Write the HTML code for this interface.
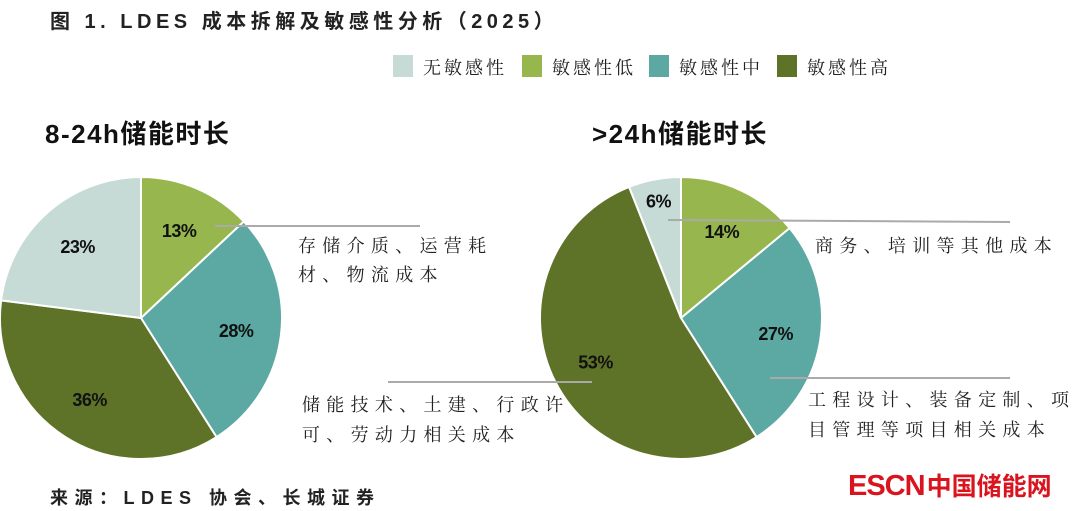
<!DOCTYPE html>
<html><head><meta charset="utf-8"><style>
body{margin:0;background:#fff;}
svg{display:block;}
.cj{font-family:"Liberation Serif","Noto Serif CJK SC",serif;}
.sn{font-family:"Liberation Sans","Noto Sans CJK SC",sans-serif;}
</style></head><body>
<svg width="1080" height="511" viewBox="0 0 1080 511" xmlns="http://www.w3.org/2000/svg">
<text x="50" y="28" class="sn" font-size="20" font-weight="bold" fill="#222" letter-spacing="4.5">图 1. LDES 成本拆解及敏感性分析（2025）</text>
<g id="legend"></g>
<text x="45" y="143" class="sn" font-size="26" font-weight="bold" fill="#111" letter-spacing="1.5">8-24h储能时长</text>
<text x="592" y="143" class="sn" font-size="26" font-weight="bold" fill="#111" letter-spacing="1.5">&gt;24h储能时长</text>
<g id="pies"></g>
<g stroke="#aaa" stroke-width="2">
<line x1="215" y1="226" x2="420" y2="226"/>
<line x1="388" y1="382" x2="592" y2="382"/>
<line x1="668" y1="220" x2="1010" y2="222"/>
<line x1="770" y1="378" x2="1010" y2="378"/>
</g>
<g class="cj" font-size="18" fill="#222" letter-spacing="6.3">
<text x="298" y="252">存储介质、运营耗</text>
<text x="298" y="281">材、物流成本</text>
<text x="302" y="411">储能技术、土建、行政许</text>
<text x="302" y="441">可、劳动力相关成本</text>
<text x="815" y="252">商务、培训等其他成本</text>
<text x="808" y="406">工程设计、装备定制、项</text>
<text x="808" y="436">目管理等项目相关成本</text>
</g>
<text x="50" y="504" class="sn" font-size="18" font-weight="bold" fill="#222" letter-spacing="6.5">来源：LDES 协会、长城证券</text>
<text x="848" y="495" class="sn" font-size="29" font-weight="bold" fill="#d9141e" letter-spacing="-1">ESCN<tspan font-size="25" dx="2" letter-spacing="0">中国储能网</tspan></text>
</svg>
<script>
const categories=['无敏感性','敏感性低','敏感性中','敏感性高'];
const colors=['#c6dbd5','#97b64e','#5ca8a2','#5e7327'];
const pie1Values=[23,13,28,36];
const pie2Values=[6,14,27,53];
const NS='http://www.w3.org/2000/svg';
const lg=document.getElementById('legend');
const lx=[393,522,649,777];
categories.forEach((c,i)=>{
 const r=document.createElementNS(NS,'rect');
 r.setAttribute('x',lx[i]);r.setAttribute('y',55);r.setAttribute('width',20);r.setAttribute('height',22);r.setAttribute('fill',colors[i]);
 
 
 lg.appendChild(r);
 const t=document.createElementNS(NS,'text');
 t.setAttribute('x',lx[i]+30);t.setAttribute('y',74);t.setAttribute('class','cj');t.setAttribute('font-size','18');t.setAttribute('fill','#222');t.setAttribute('letter-spacing','3');
 t.textContent=c;
 
 
 lg.appendChild(t);
});
const order=[1,2,3,0];
function drawPie(vals,cx,cy,R,name){
 const g=document.getElementById('pies');
 const tot=vals.reduce((a,b)=>a+b,0);
 let a=0;
 order.forEach(i=>{
  const v=vals[i];const a0=a/tot*2*Math.PI;a+=v;const a1=a/tot*2*Math.PI;
  const p=(t)=>[cx+R*Math.sin(t),cy-R*Math.cos(t)];
  const [x0,y0]=p(a0),[x1,y1]=p(a1);
  const path=document.createElementNS(NS,'path');
  path.setAttribute('d',`M${cx},${cy}L${x0},${y0}A${R},${R} 0 ${a1-a0>Math.PI?1:0} 1 ${x1},${y1}Z`);
  path.setAttribute('fill',colors[i]);path.setAttribute('stroke','#fff');path.setAttribute('stroke-width','2');
  
  
  g.appendChild(path);
  const m=(a0+a1)/2;const lr=v<10?R*0.85:R*0.68;
  const t=document.createElementNS(NS,'text');
  t.setAttribute('x',cx+lr*Math.sin(m));t.setAttribute('y',cy-lr*Math.cos(m)+7);
  t.setAttribute('text-anchor','middle');t.setAttribute('class','sn');t.setAttribute('font-size','18');t.setAttribute('font-weight','bold');t.setAttribute('fill','#111');t.setAttribute('letter-spacing','-0.5');
  t.textContent=v+'%';
  
  
  g.appendChild(t);
 });
}
drawPie(pie1Values,141,318,141,'pie1');
drawPie(pie2Values,681,318,141,'pie2');
</script>
</body></html>
